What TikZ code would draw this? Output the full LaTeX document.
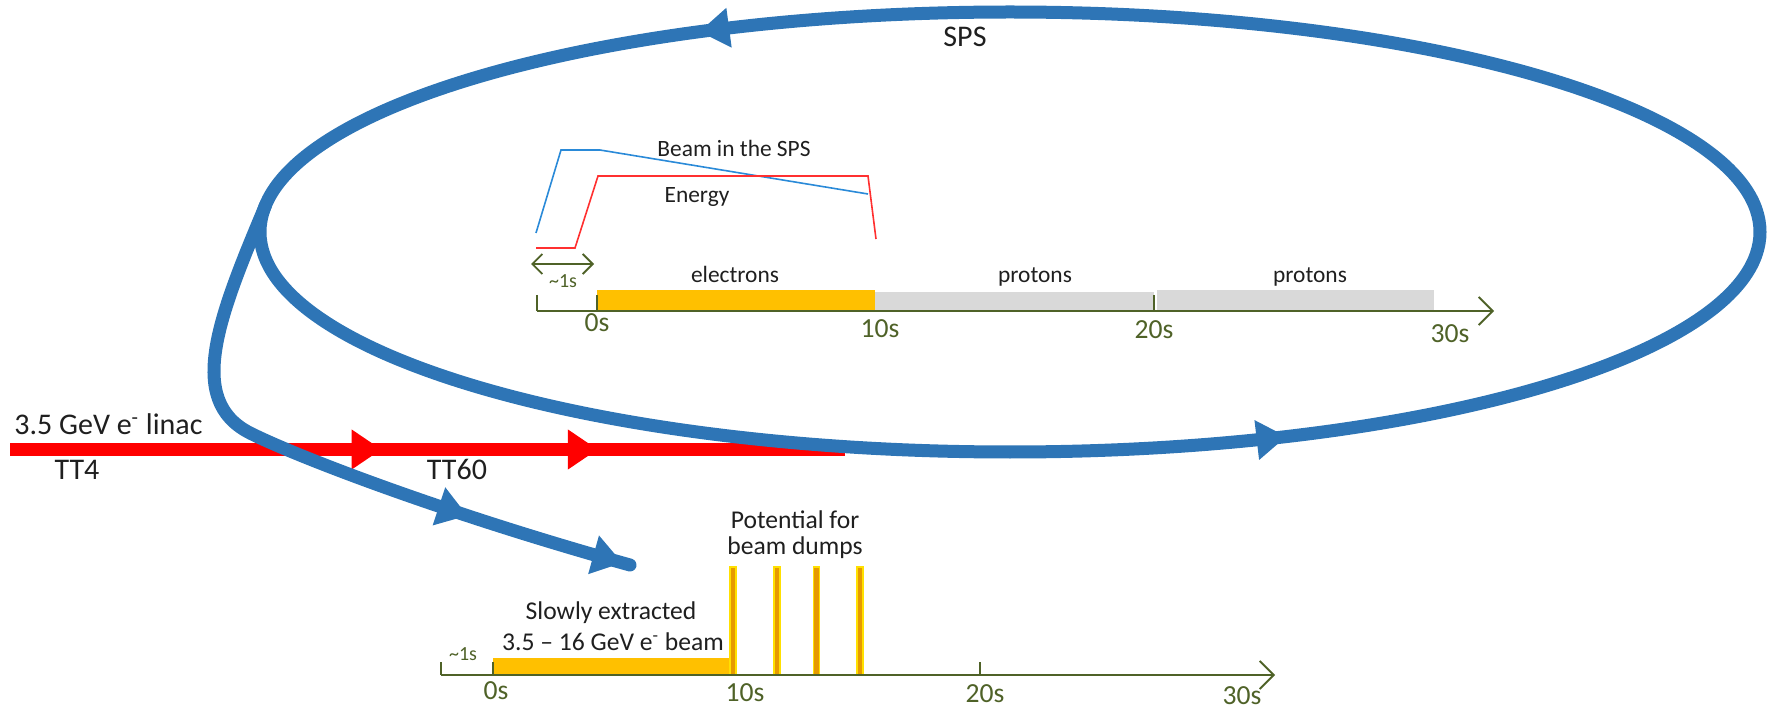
\documentclass[tikz,border=0pt]{standalone}
\usepackage{fontspec}
\setmainfont{Carlito}
\usetikzlibrary{arrows.meta,positioning,decorations.markings}
\definecolor{beamblue}{HTML}{2E75B6}
\definecolor{linacred}{HTML}{FF0000}
\definecolor{eorange}{HTML}{FFC000}
\definecolor{pgray}{HTML}{D9D9D9}
\definecolor{axisgreen}{HTML}{4F6228}
\definecolor{curveblue}{HTML}{2A8AD8}
\definecolor{curvered}{HTML}{FF3030}
\definecolor{dumpfill}{HTML}{E69A00}
\definecolor{dumpedge}{HTML}{FFE000}
\definecolor{inktext}{HTML}{1F1F1F}

\begin{document}
\begin{tikzpicture}[x=0.5pt, y=-0.5pt,
    beam/.style={draw=beamblue, line width=6.5pt},
    linac/.style={draw=linacred, line width=6.5pt},
    bighead/.tip={Triangle[length=15pt, width=19pt]},
    timeaxis/.style={draw=axisgreen, line width=0.9pt},
    lbl/.style={text=inktext, font=\fontsize{15}{18}\selectfont, inner sep=0pt},
    midlbl/.style={text=inktext, font=\fontsize{12.8}{15}\selectfont, inner sep=0pt},
    smllbl/.style={text=inktext, font=\fontsize{11.7}{14}\selectfont, inner sep=0pt},
    ticklbl/.style={text=axisgreen, font=\fontsize{13.8}{16}\selectfont, inner sep=0pt},
    durlbl/.style={text=axisgreen, font=\fontsize{10}{12}\selectfont, inner sep=0pt},
    dump/.style={fill=dumpfill, draw=dumpedge, line width=0.6pt}
]
\useasboundingbox (0,0) rectangle (1779,711);

\coordinate (sps) at (1010,232);
\coordinate (kick) at (265.6,205.2);
\coordinate (dumpend) at (630,565);
\coordinate (linacstart) at (10,449.5);
\coordinate (linacend) at (845,449.5);

\draw[linac, postaction={decorate}, decoration={markings,
    mark=at position 0.445 with {\arrow[linacred]{bighead}},
    mark=at position 0.704 with {\arrow[linacred]{bighead}}}]
  (linacstart) -- (linacend);

\draw[beam, postaction={decorate}, decoration={markings,
    mark=at position 0.1655 with {\arrowreversed[beamblue]{bighead}},
    mark=at position 0.655 with {\arrowreversed[beamblue]{bighead}}}]
  (sps) ellipse [x radius=750, y radius=220];

\draw[beam, line cap=round, postaction={decorate}, decoration={markings,
    mark=at position 0.74 with {\arrow[beamblue]{bighead}},
    mark=at position 0.988 with {\arrow[beamblue]{bighead}}}]
  (kick) .. controls (219,316) and (185,400) .. (250,433)
         .. controls (300,458) and (450,515) .. (dumpend);

\node[lbl, anchor=base west] (linaclbl) at (14,435) {3.5 GeV e\textsuperscript{-} linac};
\node[lbl, anchor=base] (tt4) at (77,480) {TT4};
\node[lbl, anchor=base] (tt60) at (457,480) {TT60};
\node[lbl, anchor=base] (spslbl) at (965,46.5) {SPS};

\draw[curveblue, line width=0.8pt] (536,233) -- (561,150) -- (600,150) -- (868,194);
\draw[curvered, line width=0.8pt] (536,248) -- (575,248) -- (598,176) -- (868,176) -- (876,239);
\node[smllbl, anchor=base] (beamlbl) at (734,157) {Beam in the SPS};
\node[smllbl, anchor=base] (energylbl) at (697,203) {Energy};

\fill[eorange] (597,290) rectangle (875,311);
\fill[pgray] (875,292) rectangle (1154,311);
\fill[pgray] (1157,290) rectangle (1434,311);
\draw[timeaxis, -{Straight Barb[length=7pt, width=14pt]}] (537,311) -- (1494,311);
\foreach \x in {537,597,1154} \draw[timeaxis] (\x,295) -- (\x,311);
\draw[timeaxis, {Straight Barb[length=5pt, width=10pt]}-{Straight Barb[length=5pt, width=10pt]}] (531,264) -- (594,264);
\node[durlbl, anchor=base] (onesec) at (563,288) {\textasciitilde1s};
\node[smllbl, anchor=base] (elbl) at (735,282.7) {electrons};
\node[smllbl, anchor=base] (plbla) at (1035,282.7) {protons};
\node[smllbl, anchor=base] (plblb) at (1310,282.7) {protons};
\node[ticklbl, anchor=base] (ta0) at (597,332) {0s};
\node[ticklbl, anchor=base] (ta10) at (880,338) {10s};
\node[ticklbl, anchor=base] (ta20) at (1154,339) {20s};
\node[ticklbl, anchor=base] (ta30) at (1450,343) {30s};

\fill[eorange] (493,658) rectangle (730,675);
\foreach \x in {733,777,816.5,860} \filldraw[dump] (\x-3,567) rectangle (\x+3,675);
\draw[timeaxis, -{Straight Barb[length=7pt, width=14pt]}] (441,675) -- (1275,675);
\foreach \x in {441,493,980} \draw[timeaxis] (\x,662) -- (\x,675);
\node[durlbl, anchor=base] (onesecb) at (463,660) {\textasciitilde1s};
\node[ticklbl, anchor=base] (tb0) at (496,699) {0s};
\node[ticklbl, anchor=base] (tb10) at (745,701) {10s};
\node[ticklbl, anchor=base] (tb20) at (985,702) {20s};
\node[ticklbl, anchor=base] (tb30) at (1242,704) {30s};
\node[midlbl, anchor=base] (slowlbl) at (611,619) {Slowly extracted};
\node[midlbl, anchor=base] (elbeam) at (613,650) {3.5 -- 16 GeV e\textsuperscript{-} beam};
\node[midlbl, anchor=base] (potlbl) at (795,528) {Potential for};
\node[midlbl, anchor=base] (dumplbl) at (795,554) {beam dumps};
\end{tikzpicture}
\end{document}
